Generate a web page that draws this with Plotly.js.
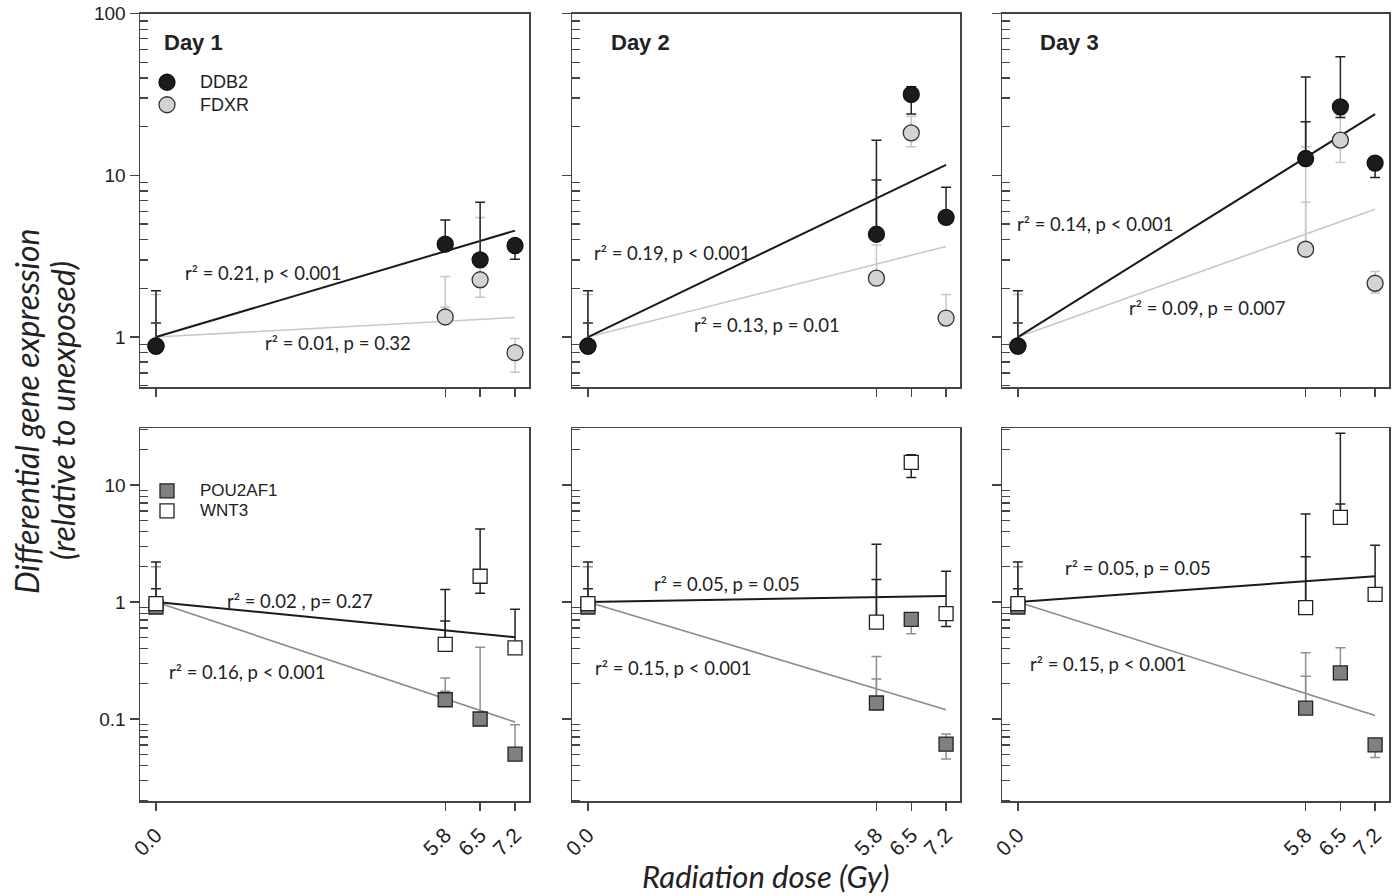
<!DOCTYPE html>
<html><head><meta charset="utf-8">
<script src="https://cdn.plot.ly/plotly-3.0.1.min.js"></script>
<style>html,body{margin:0;padding:0;background:#fff}#chart{width:1395px;height:896px}</style>
</head><body><div id="chart"></div>
<script>
// ---------------- DATA ----------------
const doses = [0, 5.8, 6.5, 7.2];
const doseLabels = ['0.0', '5.8', '6.5', '7.2'];
const days = ['Day 1', 'Day 2', 'Day 3'];
const topGenes = ['DDB2', 'FDXR'];
const bottomGenes = ['POU2AF1', 'WNT3'];

// DDB2 (one row per day)
const ddb2Mean  = [[0.88, 3.75, 3.0, 3.68], [0.88, 4.32, 31.6, 5.5], [0.88, 12.7, 26.5, 11.9]];
const ddb2Upper = [[1.93, 5.3, 6.81, null], [1.93, 16.5, 35.3, 8.43], [1.93, 40.6, 54, null]];
const ddb2Lower = [[null, null, null, 3.03], [null, null, 23.9, null], [null, null, 22.8, 9.7]];
const ddb2Inner = [[1.22, null, null, null], [1.22, 9.36, null, null], [1.22, 21.4, null, null]];

// FDXR
const fdxrMean  = [[0.88, 1.33, 2.26, 0.80], [0.88, 2.31, 18.3, 1.31], [0.88, 3.49, 16.5, 2.15]];
const fdxrUpper = [[1.83, 2.37, 5.48, 0.98], [1.83, 3.71, 23.2, 1.83], [1.83, 15.0, 23.6, 2.54]];
const fdxrLower = [[null, null, 1.76, 0.605], [null, null, 15.0, null], [null, null, 12.0, 1.87]];
const fdxrInner = [[null, 1.53, null, null], [null, null, null, null], [null, 6.81, null, null]];

// POU2AF1
const pouMean  = [[0.906, 0.146, 0.100, 0.050], [0.906, 0.137, 0.71, 0.061], [0.906, 0.124, 0.248, 0.060]];
const pouUpper = [[2.0, 0.224, 0.411, 0.0894], [2.0, 0.342, null, 0.0744], [2.0, 0.368, 0.406, null]];
const pouLower = [[null, null, null, null], [null, null, 0.535, 0.0454], [null, null, null, 0.0469]];
const pouInner = [[null, 0.173, null, null], [null, 0.22, null, null], [null, 0.232, null, null]];

// WNT3
const wnt3Mean  = [[0.97, 0.434, 1.66, 0.406], [0.97, 0.674, 15.6, 0.794], [0.97, 0.894, 5.28, 1.16]];
const wnt3Upper = [[2.2, 1.28, 4.2, 0.865], [2.2, 3.12, 18.1, 1.83], [2.2, 5.64, 27.7, 3.06]];
const wnt3Lower = [[null, null, 1.19, null], [null, null, 11.6, 0.618], [null, null, null, null]];
const wnt3Inner = [[1.3, 0.687, null, null], [1.3, 1.56, null, null], [1.3, 2.43, 6.87, null]];

// regression lines (value at dose 0 and at dose 7.2)
const fitDoses = [0, 7.2];
const ddb2Fit = [[1, 4.55], [1, 11.6], [1, 23.9]];
const fdxrFit = [[1, 1.32], [1, 3.63], [1, 6.17]];
const pouFit  = [[1, 0.094], [1, 0.12], [1, 0.107]];
const wnt3Fit = [[1, 0.50], [1, 1.125], [1, 1.66]];

// statistics labels
const ddb2Stats = ['r\u00b2 = 0.21, p < 0.001', 'r\u00b2 = 0.19, p < 0.001', 'r\u00b2 = 0.14, p < 0.001'];
const fdxrStats = ['r\u00b2 = 0.01, p = 0.32', 'r\u00b2 = 0.13, p = 0.01', 'r\u00b2 = 0.09, p = 0.007'];
const wnt3Stats = ['r\u00b2 = 0.02 , p= 0.27', 'r\u00b2 = 0.05, p = 0.05', 'r\u00b2 = 0.05, p = 0.05'];
const pouStats  = ['r\u00b2 = 0.16, p < 0.001', 'r\u00b2 = 0.15, p < 0.001', 'r\u00b2 = 0.15, p < 0.001'];

const yTitleLines = ['Differential gene expression', '(relative to unexposed)'];
const xTitle = 'Radiation dose (Gy)';

// ---------------- LAYOUT / STYLE ----------------
const W = 1395, H = 896;
const px = v => v / W, py = v => 1 - v / H;
const colPx = [[140, 529], [572, 960], [1002, 1389]];
const rowPx = [[13.5, 387], [428, 801]];
const xRange = [-0.32, 7.48];
const yRanges = [[-0.309, 2.0005], [-1.701, 1.487]];
const yMajor = [[1, 10, 100], [0.1, 1, 10]];
const yMajorText = [['1', '10', '100'], ['0.1', '1', '10']];

const ARIAL = 'Liberation Sans, Arial, sans-serif';
const CAL = 'Lato, Carlito, Calibri, sans-serif';
const AX = '#444';

const series = {
  DDB2:    {mean: ddb2Mean, up: ddb2Upper, lo: ddb2Lower, inner: ddb2Inner, fit: ddb2Fit,
            symbol: 'circle', size: 16, fill: '#1b1b1b', line: '#111', err: '#222', fitC: '#1a1a1a', fitW: 2},
  FDXR:    {mean: fdxrMean, up: fdxrUpper, lo: fdxrLower, inner: fdxrInner, fit: fdxrFit,
            symbol: 'circle', size: 16, fill: '#d3d3d3', line: '#333', err: '#c6c6c6', fitC: '#c8c8c8', fitW: 1.6},
  POU2AF1: {mean: pouMean, up: pouUpper, lo: pouLower, inner: pouInner, fit: pouFit,
            symbol: 'square', size: 14, fill: '#808080', line: '#222', err: '#8f8f8f', fitC: '#8c8c8c', fitW: 1.6},
  WNT3:    {mean: wnt3Mean, up: wnt3Upper, lo: wnt3Lower, inner: wnt3Inner, fit: wnt3Fit,
            symbol: 'square', size: 14, fill: '#ffffff', line: '#222', err: '#222', fitC: '#1a1a1a', fitW: 2}
};

function minorVals(range) {
  const out = [];
  for (let e = -3; e <= 3; e++) for (let k = 2; k <= 9; k++) {
    const v = k * Math.pow(10, e), l = Math.log10(v);
    if (l > range[0] && l < range[1]) out.push(v);
  }
  return out;
}

const traces = [];
const layout = {
  width: W, height: H, margin: {l: 0, r: 0, t: 0, b: 0},
  paper_bgcolor: '#fff', plot_bgcolor: '#fff', showlegend: true,
  font: {family: ARIAL, color: '#222'},
  annotations: []
};

const rows = [
  {genes: ['FDXR', 'DDB2'], legend: 'legend', legendSize: 18},       // drawing order (DDB2 on top)
  {genes: ['POU2AF1', 'WNT3'], legend: 'legend2', legendSize: 17}
];

rows.forEach((row, r) => {
  days.forEach((day, d) => {
    const idx = r * 3 + d + 1;
    const xs = idx === 1 ? '' : String(idx);
    const xref = 'x' + xs, yref = 'y' + xs;
    layout['xaxis' + xs] = {
      domain: [px(colPx[d][0]), px(colPx[d][1])], anchor: yref, range: xRange,
      tickmode: 'array', tickvals: doses, ticktext: doseLabels,
      showticklabels: r === 1, tickangle: -45, ticklabelstandoff: 4,
      tickfont: {family: ARIAL, size: 21, color: '#222'},
      ticks: 'outside', ticklen: 8, tickwidth: 1.3, tickcolor: AX,
      showline: true, mirror: true, linecolor: AX, linewidth: 1.5,
      showgrid: false, zeroline: false, fixedrange: true
    };
    layout['yaxis' + xs] = {
      domain: [py(rowPx[r][1]), py(rowPx[r][0])], anchor: xref, type: 'log', range: yRanges[r],
      tickmode: 'array', tickvals: yMajor[r], ticktext: yMajorText[r],
      showticklabels: d === 0, tickfont: {family: ARIAL, size: 19, color: '#222'},
      ticks: 'outside', ticklen: 9, tickwidth: 1.3, tickcolor: AX,
      minor: {tickmode: 'array', tickvals: minorVals(yRanges[r]), ticks: 'inside', ticklen: 8,
              tickwidth: 1.3, tickcolor: AX, showgrid: false},
      showline: true, mirror: true, linecolor: AX, linewidth: 1.5,
      showgrid: false, zeroline: false, fixedrange: true
    };

    // regression lines
    row.genes.forEach(g => {
      const s = series[g];
      traces.push({x: fitDoses, y: s.fit[d], xaxis: xref, yaxis: yref, mode: 'lines',
        line: {color: s.fitC, width: s.fitW}, showlegend: false, hoverinfo: 'skip'});
    });
    // inner error caps
    row.genes.forEach(g => {
      const s = series[g];
      const m = s.mean[d], inn = s.inner[d];
      traces.push({x: doses, y: m.map((v, i) => inn[i] != null ? v : null), xaxis: xref, yaxis: yref,
        mode: 'markers', marker: {size: 1, opacity: 0}, showlegend: false, hoverinfo: 'skip',
        error_y: {type: 'data', symmetric: false,
          array: m.map((v, i) => inn[i] != null ? inn[i] - v : 0),
          arrayminus: m.map(() => 0), color: s.err, thickness: 1.5, width: 5}});
    });
    // main points with error bars
    row.genes.forEach(g => {
      const s = series[g];
      const m = s.mean[d], up = s.up[d], lo = s.lo[d];
      traces.push({x: doses, y: m, xaxis: xref, yaxis: yref, mode: 'markers',
        name: '<span style="font-size:' + row.legendSize + 'px">' + g + '</span>',
        legend: row.legend, showlegend: d === 0,
        marker: {symbol: s.symbol, size: s.size, color: s.fill, line: {color: s.line, width: 1.3}},
        error_y: {type: 'data', symmetric: false,
          array: m.map((v, i) => up[i] != null ? up[i] - v : 0),
          arrayminus: m.map((v, i) => lo[i] != null ? v - lo[i] : 0),
          color: s.err, thickness: 1.5, width: 5}});
    });
  });
});

// legends (small base font keeps rows tight; entry text is enlarged via span style)
const legendBase = {xanchor: 'left', yanchor: 'top', bgcolor: 'rgba(0,0,0,0)', borderwidth: 0,
  itemwidth: 56, tracegroupgap: 0, itemclick: false};
layout.legend = Object.assign({}, legendBase, {x: px(134), y: py(66), traceorder: 'reversed',
  font: {family: ARIAL, size: 15, color: '#222'}});
layout.legend2 = Object.assign({}, legendBase, {x: px(134), y: py(476), traceorder: 'normal',
  font: {family: ARIAL, size: 13, color: '#222'}});

// day labels
const dayPos = [[193, 43], [640, 43], [1069, 43]];
days.forEach((t, d) => layout.annotations.push({text: '<b>' + t + '</b>', x: px(dayPos[d][0]), y: py(dayPos[d][1]),
  xref: 'paper', yref: 'paper', showarrow: false, xanchor: 'center', yanchor: 'middle',
  font: {family: ARIAL, size: 22, color: '#222'}}));

// stats labels
const statPos = {
  DDB2: [[263, 273], [672, 253], [1095, 224]],
  FDXR: [[338, 343], [767, 325], [1207, 308]],
  WNT3: [[300, 601], [727, 584], [1138, 568]],
  POU2AF1: [[247, 672], [673, 668], [1108, 664]]
};
const statText = {DDB2: ddb2Stats, FDXR: fdxrStats, WNT3: wnt3Stats, POU2AF1: pouStats};
Object.keys(statPos).forEach(g => statPos[g].forEach((p, d) => layout.annotations.push({
  text: statText[g][d], x: px(p[0]), y: py(p[1]), xref: 'paper', yref: 'paper', showarrow: false,
  xanchor: 'center', yanchor: 'middle', font: {family: CAL, size: 18.5, color: '#222'}})));

// axis titles
[[26, 411], [62, 411]].forEach((p, i) => layout.annotations.push({text: '<i>' + yTitleLines[i] + '</i>',
  x: px(p[0]), y: py(p[1]), xref: 'paper', yref: 'paper', showarrow: false, textangle: -90,
  xanchor: 'center', yanchor: 'middle', font: {family: CAL, size: 32, color: '#222'}}));
layout.annotations.push({text: '<i>' + xTitle + '</i>', x: px(766), y: 0, xref: 'paper', yref: 'paper',
  showarrow: false, xanchor: 'center', yanchor: 'bottom', borderpad: 0,
  font: {family: CAL, size: 31, color: '#222'}});

Plotly.newPlot('chart', traces, layout, {displayModeBar: false, staticPlot: true});
</script>
</body></html>
